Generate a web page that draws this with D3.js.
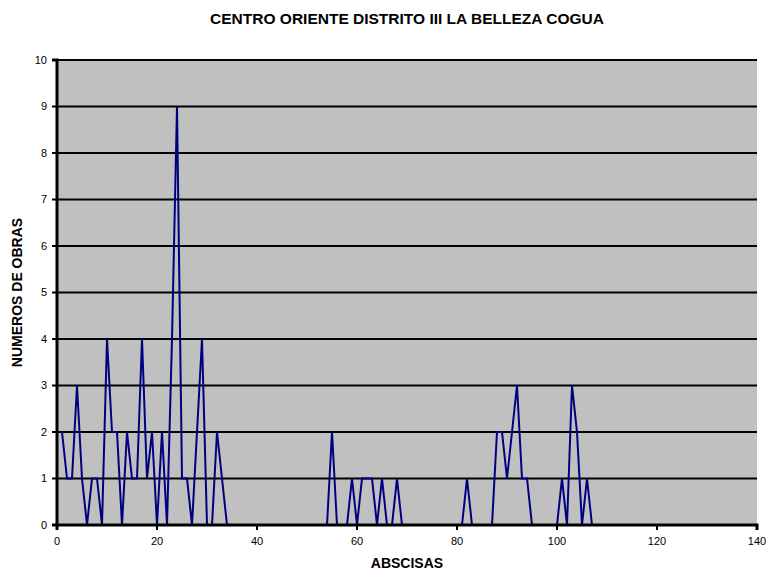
<!DOCTYPE html>
<html>
<head>
<meta charset="utf-8">
<script src="https://cdn.jsdelivr.net/npm/d3@7"></script>
<style>
    body { margin: 0; background: #fff; }
    text { font-family: "Liberation Sans", Arial, sans-serif; }
</style>
</head>
<body>
<svg id="chart" width="775" height="573"></svg>
<script>
// abscisas (x) and numero de obras (y)
const abscisas = [
    1, 2, 3, 4, 5, 6, 7, 8, 9, 10, 11, 12, 13, 14, 15, 16, 17, 18, 19, 20,
    21, 22, 23, 24, 25, 26, 27, 28, 29, 30, 31, 32, 33, 34, 35, 36, 37, 38, 39, 40,
    41, 42, 43, 44, 45, 46, 47, 48, 49, 50, 51, 52, 53, 54, 55, 56, 57, 58, 59, 60,
    61, 62, 63, 64, 65, 66, 67, 68, 69, 70, 71, 72, 73, 74, 75, 76, 77, 78, 79, 80,
    81, 82, 83, 84, 85, 86, 87, 88, 89, 90, 91, 92, 93, 94, 95, 96, 97, 98, 99, 100,
    101, 102, 103, 104, 105, 106, 107
];
const obras = [
    2, 1, 1, 3, 1, 0, 1, 1, 0, 4, 2, 2, 0, 2, 1, 1, 4, 1, 2, 0,
    2, 0, 4, 9, 1, 1, 0, 2, 4, 0, 0, 2, 1, 0, 0, 0, 0, 0, 0, 0,
    0, 0, 0, 0, 0, 0, 0, 0, 0, 0, 0, 0, 0, 0, 2, 0, 0, 0, 1, 0,
    1, 1, 1, 0, 1, 0, 0, 1, 0, 0, 0, 0, 0, 0, 0, 0, 0, 0, 0, 0,
    0, 1, 0, 0, 0, 0, 0, 2, 2, 1, 2, 3, 1, 1, 0, 0, 0, 0, 0, 0,
    1, 0, 3, 2, 0, 1, 0
];
const xTicks = [0, 20, 40, 60, 80, 100, 120, 140];
const yTicks = [0, 1, 2, 3, 4, 5, 6, 7, 8, 9, 10];

const titulo = 'CENTRO ORIENTE DISTRITO III LA BELLEZA COGUA';
const xTitulo = 'ABSCISAS';
const yTitulo = 'NUMEROS DE OBRAS';

const svg = d3.select('#chart');
const margin = { top: 60, right: 18, bottom: 48, left: 57 };
const width = 775 - margin.left - margin.right;
const height = 573 - margin.top - margin.bottom;

const x = d3.scaleLinear().domain([0, 140]).range([0, width]);
const y = d3.scaleLinear().domain([0, 10]).range([height, 0]);

const g = svg.append('g').attr('transform', `translate(${margin.left},${margin.top})`);

// plot area
g.append('rect')
    .attr('width', width)
    .attr('height', height)
    .attr('fill', '#c0c0c0');

// gridlines
g.selectAll('.grid')
    .data(yTicks.slice(1))
    .enter().append('line')
    .attr('class', 'grid')
    .attr('x1', 0).attr('x2', width)
    .attr('y1', d => y(d)).attr('y2', d => y(d))
    .attr('stroke', '#000')
    .attr('stroke-width', 2);

// series
const line = d3.line()
    .x((d, i) => x(abscisas[i]))
    .y(d => y(d));

g.append('path')
    .datum(obras)
    .attr('d', line)
    .attr('fill', 'none')
    .attr('stroke', '#000080')
    .attr('stroke-width', 2)
    .attr('stroke-linejoin', 'miter');

// axes (drawn over the series so the zero run is hidden)
const xAxis = g.append('g')
    .attr('transform', `translate(0,${height})`)
    .call(d3.axisBottom(x).tickValues(xTicks).tickSize(5).tickPadding(7).offset(0));

const yAxis = g.append('g')
    .call(d3.axisLeft(y).tickValues(yTicks).tickSize(5).tickPadding(5).offset(0));

[xAxis, yAxis].forEach(a => {
    a.select('.domain').attr('stroke', '#000').attr('stroke-width', 3);
    a.selectAll('.tick line').attr('stroke', '#000').attr('stroke-width', 2);
    a.selectAll('.tick text')
        .attr('fill', '#000')
        .style('font-family', '"Liberation Sans", Arial, sans-serif')
        .style('font-size', '11px');
});

// titles
svg.append('text')
    .attr('x', margin.left + width / 2)
    .attr('y', 24)
    .attr('text-anchor', 'middle')
    .style('font-size', '15.5px')
    .style('font-weight', 'bold')
    .text(titulo);

svg.append('text')
    .attr('x', margin.left + width / 2)
    .attr('y', 568)
    .attr('text-anchor', 'middle')
    .style('font-size', '14px')
    .style('font-weight', 'bold')
    .text(xTitulo);

svg.append('text')
    .attr('transform', `translate(22,${margin.top + height / 2}) rotate(-90)`)
    .attr('text-anchor', 'middle')
    .style('font-size', '14px')
    .style('font-weight', 'bold')
    .text(yTitulo);
</script>
</body>
</html>
